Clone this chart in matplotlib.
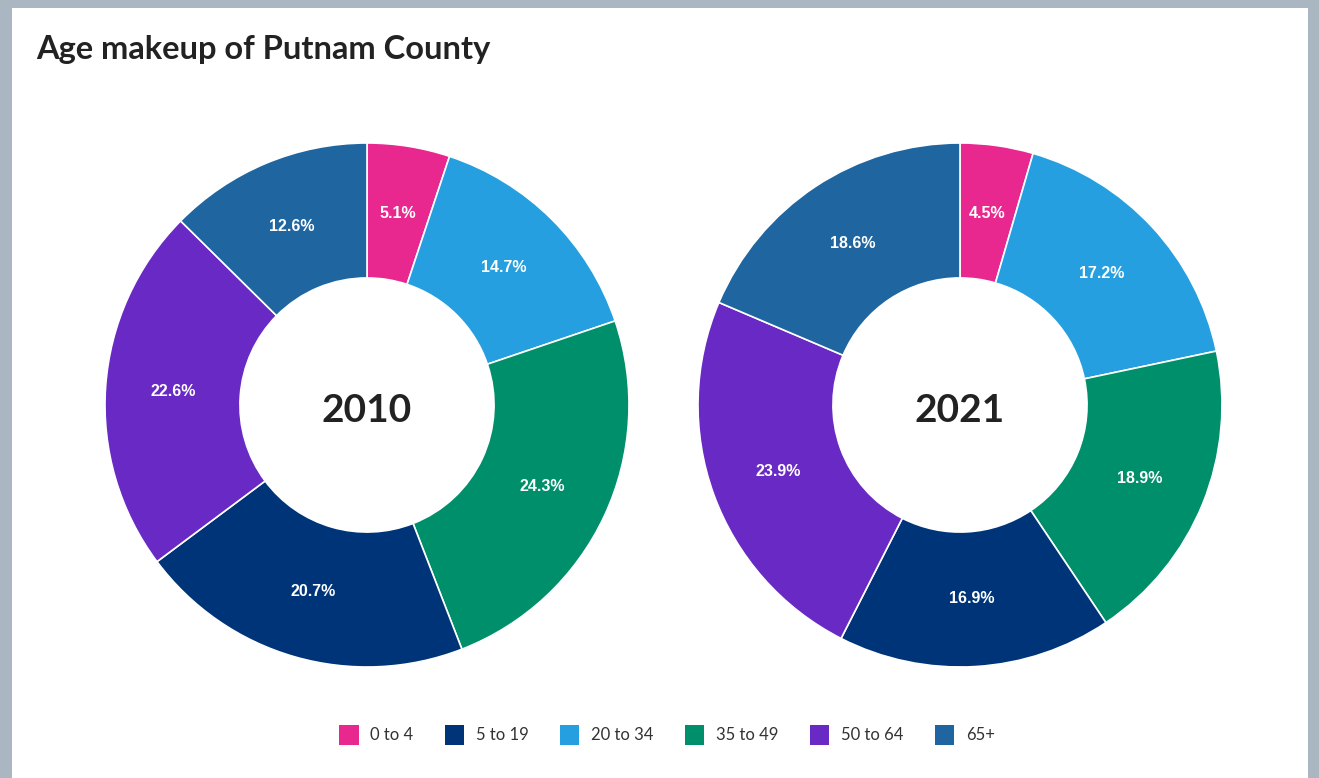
import matplotlib.pyplot as plt
from matplotlib.patches import Rectangle

# data (slice order as drawn, clockwise from the top)
groups = ['0 to 4', '20 to 34', '35 to 49', '5 to 19', '50 to 64', '65+']
share_2010 = [5.1, 14.7, 24.3, 20.7, 22.6, 12.6]
share_2021 = [4.5, 17.2, 18.9, 16.9, 23.9, 18.6]
years = ['2010', '2021']
legend_order = ['0 to 4', '5 to 19', '20 to 34', '35 to 49', '50 to 64', '65+']

colors = {
    '0 to 4': '#e8288f',
    '5 to 19': '#003479',
    '20 to 34': '#259fdf',
    '35 to 49': '#008f6b',
    '50 to 64': '#6929c4',
    '65+': '#1f65a0',
}

W, H = 1319, 778
fig = plt.figure(figsize=(W / 100, H / 100), dpi=100)
fig.patch.set_facecolor('#aab6c2')

# white card inside the gray frame
card = Rectangle((12 / W, 0), (1308 - 12) / W, (H - 8) / H,
                 transform=fig.transFigure, facecolor='white',
                 edgecolor='none', zorder=-5)
fig.patches.append(card)

fig.text(36 / W, 1 - 49 / H, 'Age makeup of Putnam County',
         fontsize=23.5, fontweight='bold', family='Lato', color='#222222',
         va='center', ha='left')

radius_px = 262
centers = [(367, 405), (960, 405)]

for (cx, cy), year, vals in zip(centers, years, [share_2010, share_2021]):
    ax = fig.add_axes([(cx - radius_px) / W, (H - cy - radius_px) / H,
                       2 * radius_px / W, 2 * radius_px / H])
    ax.set_zorder(2)
    wedges, texts = ax.pie(
        vals, colors=[colors[g] for g in groups], startangle=90,
        counterclock=False, radius=1,
        labels=[f'{v:.1f}%' for v in vals], labeldistance=0.74,
        wedgeprops=dict(width=0.515, edgecolor='white', linewidth=1.2),
        textprops=dict(color='white', fontsize=11.5, fontweight='bold',
                       family='Liberation Sans', ha='center', va='center'))
    for t in texts:
        t.set_ha('center')
    ax.text(0, -0.02, year, fontsize=28, fontweight='bold', family='Lato',
            color='#222222', ha='center', va='center')
    ax.set_xlim(-1, 1)
    ax.set_ylim(-1, 1)
    ax.set_aspect('equal')
    ax.axis('off')

handles = [Rectangle((0, 0), 1, 1, facecolor=colors[g], edgecolor='none')
           for g in legend_order]
leg = fig.legend(handles, legend_order, loc='center', ncol=6,
                 bbox_to_anchor=(667 / W, 1 - 735 / H), frameon=False,
                 prop=dict(family='Lato', size=12), labelcolor='#333333',
                 handlelength=1.15, handleheight=1.5, handletextpad=0.7,
                 columnspacing=1.9)
leg.set_zorder(3)

fig.savefig('out.png', dpi=100, facecolor=fig.get_facecolor())
